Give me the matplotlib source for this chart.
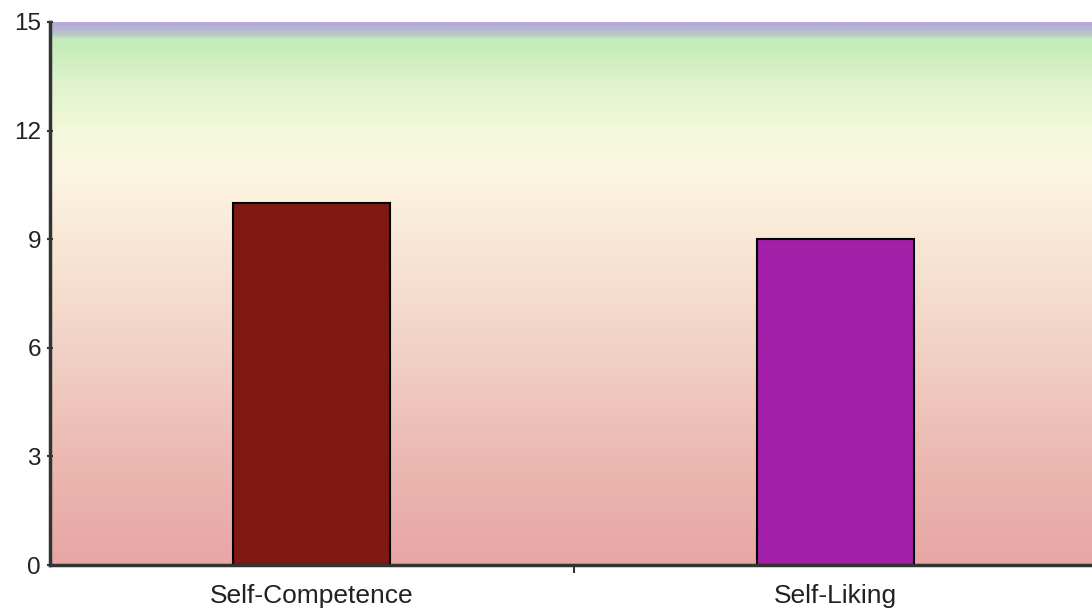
import numpy as np
import matplotlib.pyplot as plt
from matplotlib.colors import LinearSegmentedColormap

plt.rcParams['font.family'] = ['Liberation Sans', 'DejaVu Sans']

categories = ['Self-Competence', 'Self-Liking']
values = [10, 9]
bar_colors = ['#7f1810', '#a31fa8']
yticks = [0, 3, 6, 9, 12, 15]

# background gradient stops (value, colour)
bg_stops = [(0.0, '#e8a6a4'), (3.0, '#ecbab2'), (6.0, '#f2d2c6'), (9.0, '#f9e8d6'),
            (11.0, '#fcf6e2'), (12.0, '#f4f8da'), (13.5, '#dcf2ca'), (14.45, '#c2ecb8'),
            (14.55, '#c8eec0'), (14.7, '#b8c8c4'), (15.0, '#b4a8dc')]

fig = plt.figure(figsize=(10.92, 6.08), dpi=100)
ax = fig.add_axes([50 / 1092, 43 / 608, 1 - 50 / 1092, 543 / 608])

cmap = LinearSegmentedColormap.from_list('bg', [(v / 15.0, c) for v, c in bg_stops])
grad = np.linspace(0, 1, 600).reshape(-1, 1)
ax.imshow(grad, cmap=cmap, origin='lower', aspect='auto',
          extent=[-0.5, 1.5, 0, 15], zorder=0)

x = np.arange(len(categories))
ax.bar(x, values, width=0.3, color=bar_colors, edgecolor='black', linewidth=1.5, zorder=2)

ax.set_xlim(-0.5, 1.49)
ax.set_ylim(0, 15)
ax.set_yticks(yticks)
ax.set_xticks(x)
ax.set_xticklabels(categories, fontsize=19, color='#222222')
ax.set_xticks([0.5], minor=True)
ax.tick_params(axis='x', which='major', length=0, pad=14)
ax.tick_params(axis='x', which='minor', length=6, width=1.5, direction='out', color='#333333')
ax.tick_params(axis='y', labelsize=17.5, length=5, width=1.5, direction='inout',
               color='#333333', labelcolor='#222222', pad=4)

for s in ['top', 'right']:
    ax.spines[s].set_visible(False)
for s in ['left', 'bottom']:
    ax.spines[s].set_color('#333333')
    ax.spines[s].set_linewidth(2.5)

fig.savefig('out.png', dpi=100)
